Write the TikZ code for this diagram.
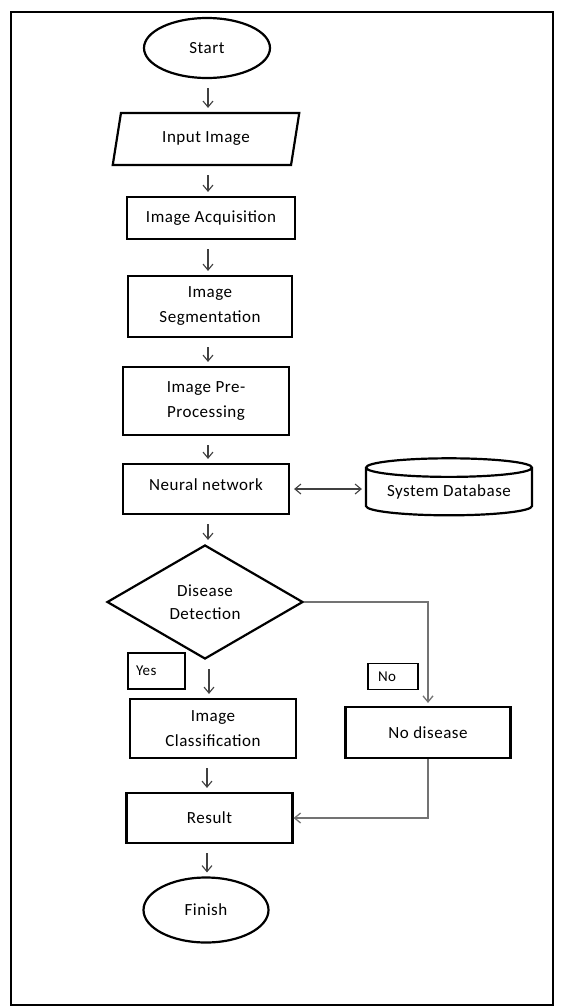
\documentclass[tikz,border=0pt]{standalone}
\usepackage{fontspec}
\setmainfont{Carlito}[LetterSpace=3]
\usetikzlibrary{shapes.geometric,arrows.meta}
\tikzset{
  base/.style={draw=black, line width=2.2pt, inner sep=0pt, align=center, font=\fontsize{17}{25}\selectfont},
  procbox/.style={base, rectangle},
  termbox/.style={base, ellipse},
  iobox/.style={base, trapezium, trapezium left angle=73, trapezium right angle=107, trapezium stretches=true},
  decbox/.style={base, diamond, font=\fontsize{17}{23}\selectfont},
  tagbox/.style={draw=black, line width=1.3pt, align=left, font=\fontsize{15}{17}\selectfont, inner ysep=0pt},
  flow/.style={draw=black!75, line width=1.1pt, -{Straight Barb[length=6pt,width=10pt]}, shorten <=9pt, shorten >=4pt},
  side/.style={draw=black!55, line width=1.3pt, -{Straight Barb[length=6pt,width=10pt]}},
}
\begin{document}
\begin{tikzpicture}[x=1pt,y=-1pt]
\useasboundingbox (0,0) rectangle (560,1007);
\draw[line width=2pt] (11,12) rectangle (553,1005);

\node[termbox, minimum width=126pt, minimum height=60pt] (start) at (207,48) {Start};
\node[iobox, minimum width=187pt, minimum height=52pt] (input) at (206,139) {Input Image};
\node[procbox, minimum width=168pt, minimum height=42pt] (acq) at (211,218) {Image Acquisition};
\node[procbox, minimum width=164pt, minimum height=61pt] (seg) at (210,306.5) {Image\\Segmentation};
\node[procbox, minimum width=166pt, minimum height=68pt] (pre) at (206,401) {Image Pre-\\Processing};
\node[procbox, minimum width=166pt, minimum height=50pt, text height=16pt, text depth=14pt] (nn) at (206,489) {Neural network};
\node[base, cylinder, shape border rotate=90, aspect=0.15, minimum width=166pt, minimum height=57pt] (db) at (449,492) {System Database};
\node[decbox, minimum width=196pt, minimum height=114pt, aspect=1.72] (det) at (205,602) {Disease\\Detection};
\node[tagbox, text width=41pt, inner xsep=8pt, minimum height=36pt] (yes) at (156.5,671) {Yes};
\node[tagbox, text width=30pt, inner xsep=10pt, minimum height=26pt] (no) at (393,676.5) {No};
\node[procbox, minimum width=166pt, minimum height=59pt] (cls) at (213,728.5) {Image\\Classification};
\node[procbox, minimum width=165pt, minimum height=51pt] (nod) at (428,732.5) {No disease};
\node[procbox, minimum width=166pt, minimum height=50pt] (res) at (209.5,818) {Result};
\node[termbox, minimum width=125pt, minimum height=65pt] (fin) at (206,910) {Finish};

\draw[flow] (start.south -| 208,0) -- (input.north -| 208,0);
\draw[flow] (input.south -| 208,0) -- (acq.north -| 208,0);
\draw[flow] (acq.south -| 208,0) -- (seg.north -| 208,0);
\draw[flow] (seg.south -| 208,0) -- (pre.north -| 208,0);
\draw[flow] (pre.south -| 208,0) -- (nn.north -| 208,0);
\draw[flow] (nn.south -| 208,0) -- (det.north -| 208,0);
\draw[flow] (det.south -| 209,0) -- (cls.north -| 209,0);
\draw[flow] (cls.south -| 207,0) -- (res.north -| 207,0);
\draw[flow] (res.south -| 207,0) -- (fin.north -| 207,0);
\draw[draw=black!75, line width=1.1pt, {Straight Barb[length=6pt,width=10pt]}-{Straight Barb[length=6pt,width=10pt]}, shorten <=4pt, shorten >=3pt] (nn.east) -- (nn.east -| db.west);
\draw[side, shorten >=3pt] (det.east) -| (nod.north);
\draw[side] (nod.south) |- (res.east);
\end{tikzpicture}
\end{document}
